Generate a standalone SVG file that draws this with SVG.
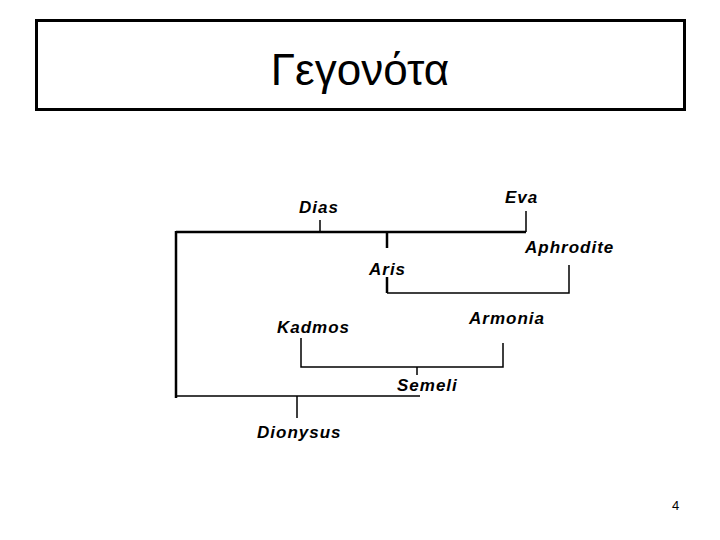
<svg xmlns="http://www.w3.org/2000/svg" width="720" height="540" viewBox="0 0 720 540">
<style>
.lbl{font-family:"Liberation Sans",Arial,sans-serif;font-size:17px;font-style:italic;font-weight:bold;letter-spacing:1px;fill:#000}
.ln{stroke:#000;fill:none;stroke-width:1.5}
.thick{stroke-width:2.5}
</style>
<rect width="720" height="540" fill="#fff"/>
<g id="title">
<rect x="36.5" y="20.5" width="648" height="89" fill="#fff" stroke="#000" stroke-width="3"/>
<text x="360" y="85" text-anchor="middle" font-family="'Liberation Sans',Arial,sans-serif" font-size="44">Γεγονότα</text>
</g>
<g id="connectors">
<path class="ln thick" d="M176,232 H526 M176,231 V398"/>
<path class="ln" d="M320,220 V232 M526,211 V232"/>
<path class="ln thick" d="M387,232 V248 M387,277 V293"/>
<path class="ln" d="M387,293 H569 V265"/>
<path class="ln" d="M301,338 V367 H503 V343 M417,367 V375"/>
<path class="ln" d="M176,396 H420 M297,396 V418"/>
</g>
<g id="node-dias"><text class="lbl" x="299" y="213">Dias</text></g>
<g id="node-eva"><text class="lbl" x="505" y="203">Eva</text></g>
<g id="node-aphrodite"><text class="lbl" x="525" y="253">Aphrodite</text></g>
<g id="node-aris"><text class="lbl" x="369" y="275">Aris</text></g>
<g id="node-kadmos"><text class="lbl" x="277" y="333">Kadmos</text></g>
<g id="node-armonia"><text class="lbl" x="469" y="324">Armonia</text></g>
<g id="node-semeli"><text class="lbl" x="397" y="391">Semeli</text></g>
<g id="node-dionysus"><text class="lbl" x="257" y="438">Dionysus</text></g>
<g id="page"><text x="672" y="510" font-family="'Liberation Sans',Arial,sans-serif" font-size="13">4</text></g>
</svg>
